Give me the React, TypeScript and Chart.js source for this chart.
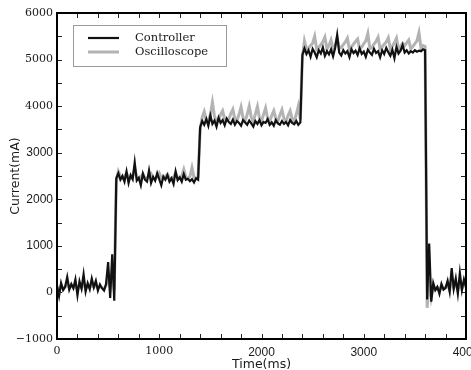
import { useEffect, useRef } from "react";
import { Chart, registerables } from "chart.js";

Chart.register(...registerables);

// Sampling interval of both traces (ms)
const STEP_MS = 20;

// Controller trace (mA), one value every STEP_MS from 0 ms
const controller: number[] = [
  150, -80, 200, 50, 120, 330, 60, 180, 90, 280,
  -60, 240, 80, 390, 20, 200, 70, 300, 110, 250,
  40, 170, 90, 40, 180, 650, -120, 820, -180, 2450,
  2560, 2420, 2500, 2380, 2600, 2350, 2520, 2430, 2790, 2400,
  2460, 2300, 2550, 2420, 2380, 2620, 2350, 2480, 2400, 2560,
  2430, 2300, 2490, 2420, 2520, 2380, 2450, 2330, 2600, 2410,
  2470, 2380, 2540, 2420, 2440, 2390, 2430, 2360, 2450, 2420,
  3550, 3680, 3600, 3720, 3580, 3800, 3620, 3690, 3560, 3750,
  3640, 3700, 3590, 3730, 3660, 3620, 3710, 3600, 3680, 3640,
  3580, 3700, 3650, 3600, 3690, 3630, 3560, 3680, 3620, 3700,
  3590, 3660, 3640, 3720, 3600, 3650, 3580, 3700, 3630, 3600,
  3680, 3620, 3660, 3590, 3700, 3640, 3610, 3680, 3600, 3650,
  5100, 5240, 5120, 5200, 5060, 5230, 5150, 5050, 5200, 5130,
  5260, 5080, 5180, 5110, 5220, 5070, 5250, 5530, 5150, 5090,
  5200, 5130, 5180, 5050, 5220, 5140, 5190, 5100, 5240, 5120,
  5170, 5060, 5210, 5150, 5100, 5230, 5140, 5180, 5050, 5200,
  5120, 5250, 5160, 5080, 5210, 5030, 5270, 5130, 5190, 5310,
  5150, 5200, 5130, 5180, 5150, 5200, 5170, 5190, 5180, 5220,
  5200, -150, 1050, -200, 200, 50, 120, -30, 180, 60,
  100, 250, 20, 520, 80, 300, -20, 420, 50, 280,
  120,
];

// Oscilloscope trace (mA), same sampling
const oscilloscope: number[] = [
  100, 50, 150, 80, 120, 200, 90, 150, 100, 180,
  60, 150, 100, 220, 80, 150, 100, 180, 110, 160,
  90, 130, 100, 80, 150, 400, 100, 500, 50, 2400,
  2600, 2500, 2450, 2480, 2560, 2460, 2450, 2500, 2650, 2470,
  2440, 2480, 2540, 2460, 2450, 2500, 2550, 2460, 2440, 2480,
  2560, 2460, 2450, 2490, 2540, 2460, 2440, 2480, 2560, 2460,
  2450, 2500, 2640, 2470, 2450, 2490, 2680, 2470, 2450, 2480,
  3500, 3760, 3880, 3700, 3680, 3820, 4080, 3780, 3660, 3720,
  3820, 3900, 3720, 3700, 3720, 3840, 3930, 3720, 3700, 3820,
  3980, 3740, 3680, 3820, 4000, 3760, 3670, 3830, 3990, 3750,
  3680, 3820, 3960, 3740, 3670, 3800, 3900, 3730, 3680, 3810,
  3920, 3730, 3680, 3800, 3900, 3720, 3670, 3820, 4000, 3720,
  5050, 5400, 5230, 5250, 5300, 5350, 5500, 5220, 5260, 5320,
  5380, 5480, 5230, 5300, 5420, 5220, 5300, 5460, 5240, 5260,
  5320, 5380, 5460, 5220, 5270, 5330, 5390, 5440, 5230, 5270,
  5340, 5400, 5560, 5240, 5260, 5330, 5390, 5480, 5230, 5270,
  5330, 5380, 5470, 5230, 5290, 5360, 5460, 5220, 5280, 5350,
  5300, 5360, 5420, 5230, 5280, 5340, 5400, 5580, 5250, 5300,
  5280, -330, 300, -100, 150, 60, 100, 20, 150, 80,
  100, 180, 50, 300, 100, 200, 40, 250, 80, 180,
  120,
];

const seriesNames = ["Controller", "Oscilloscope"];

// Axes
const X_MIN = 0, X_MAX = 4000, X_MAJOR = 1000, X_MINOR = 200;
const Y_MIN = -1000, Y_MAX = 6000, Y_MAJOR = 1000, Y_MINOR = 500;
const xTitle = "Time(ms)";
const yTitle = "Current(mA)";
// tick labels drawn with a serif face in the reference (others are sans)
const serifXTicks = [0, 1000];
const serifYTicks = [6000, 5000, 4000, 0, -1000];

const SERIF = "'DejaVu Serif', serif";
const SANS = "'Liberation Sans', Arial, sans-serif";

const BLACK = "#111111";
const GREY = "#b3b3b3";

const fmtTick = (v: any) => {
  const n = Number(v);
  return n < 0 ? "\u2212" + String(-n) : String(n);
};

const framePlugin = {
  id: "frameTicksLegend",
  afterDatasetsDraw(chart: any) {
    const { ctx, chartArea: a, scales } = chart;
    const x = scales.x, y = scales.y;
    ctx.save();
    ctx.strokeStyle = "#222";
    ctx.lineWidth = 1;
    const TL = 5;
    ctx.beginPath();
    for (let v = X_MIN; v <= X_MAX; v += X_MINOR) {
      const px = Math.round(x.getPixelForValue(v)) + 0.5;
      ctx.moveTo(px, a.bottom);
      ctx.lineTo(px, a.bottom - TL);
      ctx.moveTo(px, a.top);
      ctx.lineTo(px, a.top + TL);
    }
    for (let v = Y_MIN; v <= Y_MAX; v += Y_MINOR) {
      const py = Math.round(y.getPixelForValue(v)) + 0.5;
      ctx.moveTo(a.left, py);
      ctx.lineTo(a.left + TL, py);
      ctx.moveTo(a.right, py);
      ctx.lineTo(a.right - TL, py);
    }
    ctx.stroke();

    ctx.strokeStyle = "#000";
    ctx.lineWidth = 2;
    ctx.strokeRect(a.left, a.top, a.right - a.left, a.bottom - a.top);

    // legend box
    const lx = a.left + 16, ly = a.top + 12, lw = 153, lh = 41;
    ctx.fillStyle = "#fff";
    ctx.fillRect(lx, ly, lw, lh);
    ctx.strokeStyle = "#9a9a9a";
    ctx.lineWidth = 1;
    ctx.strokeRect(lx + 0.5, ly + 0.5, lw, lh);
    const rows = [
      { name: seriesNames[0], color: BLACK, w: 2.2 },
      { name: seriesNames[1], color: GREY, w: 3 },
    ];
    ctx.font = "11.5px " + SERIF;
    ctx.textBaseline = "middle";
    ctx.textAlign = "left";
    rows.forEach((r, i) => {
      const ry = ly + 13 + i * 14;
      ctx.strokeStyle = r.color;
      ctx.lineWidth = r.w;
      ctx.beginPath();
      ctx.moveTo(lx + 15, ry);
      ctx.lineTo(lx + 46, ry);
      ctx.stroke();
      ctx.fillStyle = "#1a1a1a";
      ctx.fillText(r.name, lx + 62, ry);
    });
    ctx.restore();
  },
};

export default function App() {
  const ref = useRef<HTMLCanvasElement | null>(null);

  useEffect(() => {
    if (!ref.current) return;
    const toPoints = (arr: number[]) => arr.map((v, i) => ({ x: i * STEP_MS, y: v }));
    const chart = new Chart(ref.current, {
      type: "line",
      data: {
        datasets: [
          {
            label: seriesNames[1],
            data: toPoints(oscilloscope),
            borderColor: GREY,
            borderWidth: 3,
            pointRadius: 0,
            tension: 0,
            order: 2,
          },
          {
            label: seriesNames[0],
            data: toPoints(controller),
            borderColor: BLACK,
            borderWidth: 2.2,
            pointRadius: 0,
            tension: 0,
            order: 1,
          },
        ],
      },
      options: {
        animation: false,
        responsive: true,
        maintainAspectRatio: false,
        parsing: false as any,
        layout: { padding: { top: 13, right: 5, left: 0, bottom: 0 } },
        plugins: { legend: { display: false }, tooltip: { enabled: false } },
        scales: {
          x: {
            type: "linear",
            min: X_MIN,
            max: X_MAX,
            grid: { display: false, drawTicks: false },
            border: { display: false },
            ticks: {
              stepSize: X_MAJOR,
              padding: 6,
              color: "#1a1a1a",
              maxRotation: 0,
              autoSkip: false,
              callback: fmtTick,
              font: (c: any) =>
                serifXTicks.includes(c.tick?.value)
                  ? { family: SERIF, size: 11 }
                  : { family: SANS, size: 12 },
            },
            title: {
              display: true,
              text: xTitle,
              color: "#1a1a1a",
              font: { family: "'DejaVu Sans', sans-serif", size: 12.5 },
              padding: { top: 0, bottom: -2.5 },
            },
            afterFit: (s: any) => {
              s.height = 31;
              s.paddingLeft = 0;
              s.paddingRight = 0;
            },
          },
          y: {
            type: "linear",
            min: Y_MIN,
            max: Y_MAX,
            grid: { display: false, drawTicks: false },
            border: { display: false },
            ticks: {
              stepSize: Y_MAJOR,
              padding: 4,
              color: "#1a1a1a",
              autoSkip: false,
              callback: fmtTick,
              font: (c: any) =>
                serifYTicks.includes(c.tick?.value)
                  ? { family: SERIF, size: 11 }
                  : { family: SANS, size: 12 },
            },
            title: {
              display: true,
              text: yTitle,
              color: "#1a1a1a",
              font: { family: "'DejaVu Sans', sans-serif", size: 12.5 },
              padding: { top: 8.5, bottom: 0 },
            },
            afterFit: (s: any) => {
              s.width = 57;
              s.paddingTop = 0;
              s.paddingBottom = 0;
            },
          },
        },
      },
      plugins: [framePlugin],
    });
    return () => chart.destroy();
  }, []);

  return (
    <div style={{ position: "absolute", left: 0, top: 0, width: 471, height: 370 }}>
      <canvas ref={ref} />
    </div>
  );
}
